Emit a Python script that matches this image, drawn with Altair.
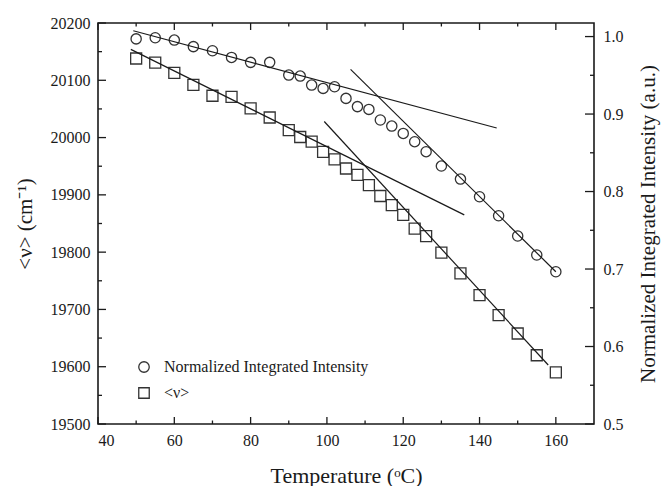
import altair as alt
import pandas as pd

# ---- data ----
temps = [50, 55, 60, 65, 70, 75, 80, 85, 90, 93, 96, 99, 102, 105, 108, 111, 114,
         117, 120, 123, 126, 130, 135, 140, 145, 150, 155, 160]
nu = [20138, 20131, 20113, 20092, 20073, 20071, 20051, 20035, 20013, 20001, 19993,
      19975, 19962, 19946, 19935, 19917, 19898, 19882, 19865, 19841, 19828, 19799,
      19763, 19725, 19690, 19658, 19620, 19590]
intensity = [0.997, 0.9985, 0.9955, 0.987, 0.9817, 0.9731, 0.9667, 0.9667, 0.9503,
             0.949, 0.9374, 0.9331, 0.9352, 0.9202, 0.9096, 0.906, 0.8923, 0.8845,
             0.875, 0.8643, 0.8514, 0.8329, 0.8161, 0.7933, 0.7688, 0.7426, 0.7181,
             0.6965]

# fitted straight lines (endpoints)
nu_fit_seg = ["a", "a", "b", "b"]
nu_fit_T = [48.6, 136.0, 99.3, 158.0]
nu_fit_v = [20154, 19865, 20028, 19603]
int_fit_seg = ["a", "a", "b", "b"]
int_fit_T = [49.25, 144.5, 106.2, 160.0]
int_fit_v = [1.0075, 0.882, 0.9577, 0.6965]

series_names = ["Normalized Integrated Intensity", "<ν>"]

x_major = [40, 60, 80, 100, 120, 140, 160]
x_minor = [50, 70, 90, 110, 130, 150]
yl_major = [19500, 19600, 19700, 19800, 19900, 20000, 20100, 20200]
yl_minor = [19550, 19650, 19750, 19850, 19950, 20050, 20150]
yr_major = [0.5, 0.6, 0.7, 0.8, 0.9, 1.0]
yr_minor = [0.55, 0.65, 0.75, 0.85, 0.95]

W, H = 496, 401
FONT = "Liberation Serif"
INK = "#1a1a1a"

df_nu = pd.DataFrame({"T": temps, "v": nu, "series": series_names[1]})
df_int = pd.DataFrame({"T": temps, "v": intensity, "series": series_names[0]})
df_nu_fit = pd.DataFrame({"T": nu_fit_T, "v": nu_fit_v, "seg": nu_fit_seg})
df_int_fit = pd.DataFrame({"T": int_fit_T, "v": int_fit_v, "seg": int_fit_seg})

xs = alt.Scale(domain=[40, 170], nice=False, zero=False)
ysl = alt.Scale(domain=[19500, 20200], nice=False, zero=False)
ysr = alt.Scale(domain=[0.5, 1.0175], nice=False, zero=False)
shape_scale = alt.Scale(domain=series_names, range=["circle", "square"])

legend = alt.Legend(orient="none", legendX=38, legendY=336, title=None,
                    labelFont=FONT, labelFontSize=16, labelColor=INK, labelLimit=0,
                    symbolStrokeColor="#333", symbolFillColor="transparent",
                    symbolStrokeWidth=1.3, symbolSize=110, rowPadding=10,
                    labelOffset=12, direction="vertical")


# inward tick marks, positioned through the chart's scales
def x_ticks(values, length, edge):
    y0 = H if edge == "bottom" else 0
    y1 = H - length if edge == "bottom" else length
    return alt.Chart(pd.DataFrame({"t": values})).mark_rule(
        color=INK, strokeWidth=1.3
    ).encode(
        x=alt.X("t:Q", scale=xs, axis=None),
        y=alt.value(y0), y2=alt.value(y1),
    )


def y_ticks(values, scale, length, edge):
    x0 = 0 if edge == "left" else W
    x1 = length if edge == "left" else W - length
    return alt.Chart(pd.DataFrame({"t": values})).mark_rule(
        color=INK, strokeWidth=1.3
    ).encode(
        y=alt.Y("t:Q", scale=scale, axis=None),
        x=alt.value(x0), x2=alt.value(x1),
    )


# ---- <ν> series (left axis) ----
squares = alt.Chart(df_nu).mark_point(
    filled=False, color="#333", strokeWidth=1.3, size=121, opacity=1
).encode(
    x=alt.X("T:Q", scale=xs, axis=alt.Axis(
        orient="bottom", values=x_major, format="d", ticks=False, tickSize=0,
        domain=False, grid=False, labelPadding=8, labelFontSize=16,
        labelFont=FONT, labelColor=INK,
        title="Temperature (ᵒC)", titleFontSize=22, titleY=58,
        titleBaseline="alphabetic", titleFont=FONT, titleColor=INK,
        titleFontWeight="normal")),
    y=alt.Y("v:Q", scale=ysl, axis=alt.Axis(
        orient="left", values=yl_major, format="d", ticks=False, tickSize=0,
        domain=False, grid=False, labelPadding=8, labelFontSize=16,
        labelFont=FONT, labelColor=INK,
        title="<ν> (cm⁻¹)", titleFontSize=21, titleX=-73, titleY=H / 2,
        titleAngle=270, titleBaseline="middle", titleAlign="center",
        titleFont=FONT, titleColor=INK, titleFontWeight="normal")),
    shape=alt.Shape("series:N", scale=shape_scale, legend=legend),
)

nu_lines = alt.Chart(df_nu_fit).mark_line(color=INK, strokeWidth=1.2).encode(
    x=alt.X("T:Q", scale=xs, axis=None),
    y=alt.Y("v:Q", scale=ysl, axis=None),
    detail="seg:N",
)

# ---- intensity series (right axis) ----
circles = alt.Chart(df_int).mark_point(
    filled=False, color="#333", strokeWidth=1.3, size=105, opacity=1
).encode(
    x=alt.X("T:Q", scale=xs, axis=None),
    y=alt.Y("v:Q", scale=ysr, axis=alt.Axis(
        orient="right", values=yr_major, format=".1f", ticks=False, tickSize=0,
        domain=False, grid=False, labelPadding=9, labelFontSize=16,
        labelFont=FONT, labelColor=INK,
        title="Normalized Integrated Intensity (a.u.)", titleFontSize=21,
        titleX=54, titleY=H / 2, titleAngle=270, titleBaseline="middle",
        titleAlign="center", titleFont=FONT, titleColor=INK,
        titleFontWeight="normal")),
    shape=alt.Shape("series:N", scale=shape_scale, legend=legend),
)

int_lines = alt.Chart(df_int_fit).mark_line(color=INK, strokeWidth=1.2).encode(
    x=alt.X("T:Q", scale=xs, axis=None),
    y=alt.Y("v:Q", scale=ysr, axis=None),
    detail="seg:N",
)

chart = alt.layer(
    squares,
    nu_lines,
    circles,
    int_lines,
    x_ticks(x_major, 7, "bottom"),
    x_ticks(x_minor, 3.5, "bottom"),
    x_ticks(x_major, 7, "top"),
    x_ticks(x_minor, 3.5, "top"),
    y_ticks(yl_major, ysl, 8, "left"),
    y_ticks(yl_minor, ysl, 4, "left"),
    y_ticks(yr_major, ysr, 9, "right"),
    y_ticks(yr_minor, ysr, 4, "right"),
).resolve_scale(
    y="independent"
).resolve_axis(
    x="independent", y="independent"
).properties(
    width=W, height=H, autosize="none",
    padding={"left": 98, "top": 23, "right": 69, "bottom": 62},
).configure_view(
    stroke=INK, strokeWidth=1.6
)

chart.save("out.html", embed_options={"renderer": "svg", "actions": False})
